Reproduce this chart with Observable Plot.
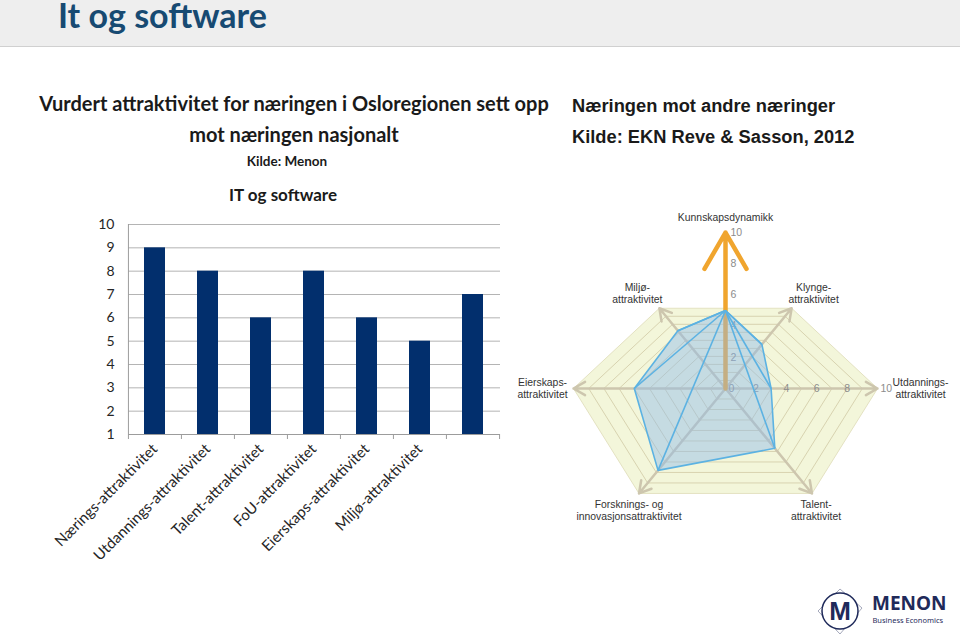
<!DOCTYPE html>
<html>
<head>
<meta charset="utf-8">
<script src="https://cdn.jsdelivr.net/npm/d3@7"></script>
<script src="https://cdn.jsdelivr.net/npm/@observablehq/plot@0.6"></script>
<style>
  body { margin: 0; background: #fff; }
  #slide { position: relative; width: 960px; height: 636px; overflow: hidden; background: #fff; }
  .abs { position: absolute; }
  #bar { left: 30px; top: 210px; }
  #radar { left: 510px; top: 200px; }
</style>
</head>
<body>
<div id="slide">
  <svg class="abs" style="left:0;top:0" width="960" height="636">
    <rect x="0" y="0" width="960" height="46" fill="#eeeeee"/>
    <line x1="0" x2="960" y1="46.5" y2="46.5" stroke="#d0d0d0"/>
    <text x="58" y="28" font-family="Lato" font-weight="bold" font-size="34" fill="#174a72">It og software</text>
    <g font-family="Lato" font-weight="bold" fill="#1a1a1a" text-anchor="middle">
      <text x="294" y="111" font-size="20">Vurdert attraktivitet for næringen i Osloregionen sett opp</text>
      <text x="294" y="142" font-size="20">mot næringen nasjonalt</text>
      <text x="287" y="166" font-size="13.5">Kilde: Menon</text>
      <text x="283" y="201" font-size="17">IT og software</text>
    </g>
    <g font-family="Liberation Sans" font-weight="bold" fill="#1a1a1a" font-size="18.3">
      <text x="572" y="112">Næringen mot andre næringer</text>
      <text x="572" y="143">Kilde: EKN Reve &amp; Sasson, 2012</text>
    </g>
  </svg>
  <div id="bar" class="abs"></div>
  <div id="radar" class="abs"></div>
  <svg class="abs" style="left:800px;top:580px" width="160" height="56">
    <polygon points="18,31 40,9 62,28 40,54" fill="none" stroke="#8e93aa" stroke-width="0.8"/>
    <circle cx="40" cy="31" r="18" fill="#fff" stroke="#1f2a5a" stroke-width="1.5"/>
    <text x="40" y="40" text-anchor="middle" font-family="Liberation Sans" font-weight="bold" font-size="26" fill="#1f2a5a">M</text>
    <text x="72" y="30" font-family="Noto Sans" font-weight="bold" font-size="19" fill="#1f2a5a">MENON</text>
    <text x="72.5" y="43" font-family="Noto Sans" font-size="7.5" fill="#1f2a5a">Business Economics</text>
  </svg>
</div>
<script>
// ---------- data: bar chart ----------
const barCategories = ["Nærings-attraktivitet", "Utdannings-attraktivitet", "Talent-attraktivitet",
  "FoU-attraktivitet", "Eierskaps-attraktivitet", "Miljø-attraktivitet", ""];
const barValues = [9, 8, 6, 8, 6, 5, 7];
const barYTicks = [1, 2, 3, 4, 5, 6, 7, 8, 9, 10];

// ---------- data: radar chart ----------
const radarAxes = ["Kunnskapsdynamikk", "Klynge-attraktivitet", "Utdannings-attraktivitet",
  "Talent-attraktivitet", "Forsknings- og innovasjonsattraktivitet", "Eierskaps-attraktivitet", "Miljø-attraktivitet"];
const radarAxisLabels = ["Kunnskapsdynamikk", "Klynge-\nattraktivitet", "Utdannings-\nattraktivitet",
  "Talent-\nattraktivitet", "Forsknings- og\ninnovasjonsattraktivitet", "Eierskaps-\nattraktivitet", "Miljø-\nattraktivitet"];
const radarValues = [5, 5.5, 3, 5.7, 7.8, 6, 7.2];
const radarTicks = [0, 2, 4, 6, 8, 10];
const radarRings = [1, 2, 3, 4, 5, 6, 7, 8, 9, 10];

// ---------- bar chart ----------
const B = {width: 480, height: 364, mt: 14, mb: 140, ml: 98, mr: 10};
const step = (B.width - B.ml - B.mr) / barCategories.length;
const barData = barCategories.map((c, i) => ({cat: c, value: barValues[i]}));
const axisGray = "#9c9c9c";
const barPlot = Plot.plot({
  width: B.width, height: B.height,
  marginTop: B.mt, marginBottom: B.mb, marginLeft: B.ml, marginRight: B.mr,
  style: {fontFamily: "Lato", fontSize: "14px", color: "#262626", background: "transparent"},
  x: {domain: barCategories, paddingInner: 0.6, paddingOuter: 0.3, label: null,
      tickSize: 0, tickPadding: 12, tickRotate: -45},
  y: {domain: [1, 10], ticks: barYTicks, label: null, tickSize: 0, tickPadding: 14},
  marks: [
    Plot.ruleY(barYTicks.slice(1), {stroke: "#b4b4b4", strokeWidth: 1}),
    Plot.barY(barData, {x: "cat", y1: barYTicks[0], y2: "value", fill: "#022f6d"}),
    Plot.ruleY(barYTicks.slice(0, 1), {stroke: axisGray}),
    Plot.ruleX(barCategories, {x: d => d, y1: 1, y2: 1, insetBottom: -5, dx: -step / 2, stroke: axisGray}),
    Plot.ruleX(barCategories.slice(-1), {x: d => d, y1: 1, y2: 1, insetBottom: -5, dx: step / 2, stroke: axisGray}),
    Plot.ruleX(barCategories.slice(0, 1), {x: d => d, y1: 10, y2: 1, dx: -step / 2, stroke: axisGray})
  ]
});
barPlot.querySelectorAll('g[aria-label="x-axis tick label"] text').forEach(t => t.setAttribute("font-size", "15"));
document.getElementById("bar").appendChild(barPlot);

// ---------- radar chart (layout geometry) ----------
const R = {width: 450, height: 330, cx: 215, cy: 188};
const radarAngle = [90, 50.5, 0, -50.5, -129.5, 180, 129.5];   // direction of each axis (deg)
const radarReach = [156, 104, 152, 136, 136, 152, 104];         // length of each axis at value 10
const radarLabelOffset = [[0, 15], [22, 15], [43, 0], [4, -17], [-10, -17], [-31, 0], [-22, 15]];
const pt = (i, v) => {
  const a = radarAngle[i] * Math.PI / 180, r = v / 10 * radarReach[i];
  return {x: r * Math.cos(a), y: r * Math.sin(a)};
};
const hexIdx = [1, 2, 3, 4, 5, 6];
const hexLoop = [...hexIdx, hexIdx[0]];
const outer = hexLoop.map(i => pt(i, radarRings[radarRings.length - 1]));
const ringPts = radarRings.slice(0, -1).flatMap(v => hexLoop.map(i => ({ring: v, ...pt(i, v)})));
const axisEnds = hexIdx.map(i => pt(i, 10));
const shape = [0, 1, 2, 3, 4, 5, 6, 0].map(i => pt(i, radarValues[i]));
const apex = pt(0, radarValues[0]);
const spokes = hexIdx.map(i => ({x1: apex.x, y1: apex.y, ...pt(i, radarValues[i])}));
const labels = radarAxisLabels.map((t, i) => {
  const p = pt(i, 10);
  return {text: t, x: p.x + radarLabelOffset[i][0], y: p.y + radarLabelOffset[i][1]};
});
const blue = "#5cb2e2";

const radarPlot = Plot.plot({
  width: R.width, height: R.height, margin: 0,
  x: {domain: [-R.cx, R.width - R.cx], axis: null},
  y: {domain: [R.cy - R.height, R.cy], axis: null},
  style: {fontFamily: "Liberation Sans", fontSize: "10px", background: "transparent"},
  marks: [
    Plot.line(outer, {x: "x", y: "y", fill: "#f3f6da", stroke: "#e4e2c2", strokeWidth: 1}),
    Plot.line(ringPts, {x: "x", y: "y", z: "ring", stroke: "#d8d3b0", strokeWidth: 1}),
    Plot.arrow(axisEnds, {x1: 0, y1: 0, x2: "x", y2: "y", stroke: "#cdc6ae", strokeWidth: 2.5, headLength: 8}),
    Plot.text(radarTicks.slice(1), {x: v => pt(0, v).x, y: v => pt(0, v).y, text: d => String(d),
      dx: 5, textAnchor: "start", fill: "#8c8c8c", fontSize: 10.5}),
    Plot.text(radarTicks.slice(1, -1), {x: v => pt(2, v).x, y: 0, text: d => String(d),
      fill: "#8c8c8c", fontSize: 10.5}),
    Plot.text([radarTicks[0], radarTicks[radarTicks.length - 1]], {x: v => pt(2, v).x, y: 0, text: d => String(d),
      dx: 3, textAnchor: "start", fill: "#8c8c8c", fontSize: 10.5}),
    Plot.arrow([pt(0, 10)], {x1: 0, y1: 0, x2: "x", y2: "y", stroke: "#f0a52e", strokeWidth: 4.5, headLength: 14}),
    Plot.line(shape, {x: "x", y: "y", fill: "#8dbbea", fillOpacity: 0.45, stroke: blue, strokeWidth: 1.6}),
    Plot.link(spokes, {x1: "x1", y1: "y1", x2: "x", y2: "y", stroke: blue, strokeWidth: 1.6}),
    Plot.text(labels, {x: "x", y: "y", text: "text", fill: "#333", fontSize: 10.4, lineHeight: 1.15})
  ]
});
document.getElementById("radar").appendChild(radarPlot);
</script>
</body>
</html>
